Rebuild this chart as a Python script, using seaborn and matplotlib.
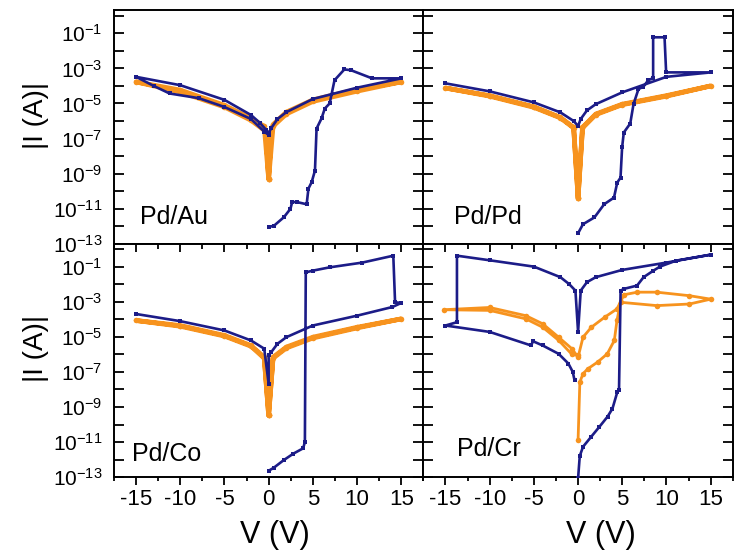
import numpy as np
import pandas as pd
import matplotlib
matplotlib.use("Agg")
import matplotlib.pyplot as plt
import matplotlib.ticker as mticker
import seaborn as sns

BLUE = "#1c1c88"
ORANGE = "#f7931e"

# ---- Pd/Au ----
v_blue_au = [0, 0.63, 1.73, 2.47, 2.66, 3.2, 4.3, 4.5, 4.87, 5.24, 5.42, 5.98, 6.35, 6.9, 7.45, 8.56, 9.3, 11.7, 15,
             10, 5, 2, 1, 0.3, 0, -0.3, -1, -2, -5, -10, -15,
             -13, -11.2, -7.9, -5, -2, -0.5, 0]
i_blue_au = [8.9e-13, 1.1e-12, 3.3e-12, 1e-11, 2.4e-11, 2.4e-11, 1.8e-11, 1.4e-10, 3.3e-10, 1.5e-9, 3.7e-7, 1.4e-6,
             5.1e-6, 1e-5, 2.1e-4, 8.7e-4, 7.9e-4, 2.7e-4, 2.7e-4,
             7.9e-5, 1.8e-5, 3.2e-6, 1.3e-6, 4e-7, 2e-7, 3.2e-7, 7.9e-7, 2.2e-6, 1.6e-5, 1.1e-4, 3.3e-4,
             1e-4, 3.7e-5, 2e-5, 6.3e-6, 1.3e-6, 2.5e-7, 1.6e-7]
v_orange_au = [0, 0.3, 0.5, 2, 5, 10, 15, 10, 5, 2, 0.5, 0, -0.5, -2, -5, -10, -15, -10, -5, -2, -0.3, 0]
i_orange_au = [5.1e-10, 2.5e-7, 6.3e-7, 3.2e-6, 1.6e-5, 6.3e-5, 1.7e-4, 5.0e-5, 1.3e-5, 2.5e-6, 5e-7, 5.1e-10,
               5e-7, 1.4e-6, 7.9e-6, 5.8e-5, 1.7e-4, 4.5e-5, 6.3e-6, 1.1e-6, 2.5e-7, 5.1e-10]

# ---- Pd/Pd ----
v_blue_pd = [0, 0.55, 1.85, 2.95, 4.06, 4.43, 4.8, 4.98, 5.17, 5.9, 6.27, 6.83, 7.38, 7.93, 8.49, 8.49, 9.78, 9.96, 15,
             10, 5, 2, 1, 0.3, 0, -0.5, -2, -5, -10, -15]
i_blue_pd = [4e-13, 1.3e-12, 3.2e-12, 1.8e-11, 4.3e-11, 3.1e-10, 5.9e-10, 3.1e-8, 2.2e-7, 7.2e-7, 9.1e-6, 6.6e-5,
             8.9e-5, 2.1e-4, 2.8e-4, 5.9e-2, 5.9e-2, 5.9e-4, 5.9e-4,
             3.3e-4, 4.3e-5, 9.1e-6, 4e-6, 1.3e-6, 5.2e-7, 1e-6, 3.1e-6, 1.15e-5, 4.9e-5, 1.4e-4]
v_orange_pd = [0, 0.5, 2, 5, 10, 15, 10, 5, 2, 0.5, 0, -0.5, -2, -5, -10, -15, -10, -5, -2, -0.5, 0]
i_orange_pd = [4.3e-11, 4.3e-7, 2.5e-6, 9.1e-6, 2.8e-5, 1.0e-4, 2.6e-5, 8.5e-6, 2.3e-6, 4e-7, 4.3e-11,
               4.3e-7, 1.6e-6, 6.5e-6, 2.8e-5, 7.6e-5, 2.6e-5, 6e-6, 1.5e-6, 4e-7, 4.3e-11]

# ---- Pd/Co ----
v_blue_co = [0, 0.6, 1.7, 2.8, 3.9, 4.1, 4.2, 5.0, 6.9, 10.6, 14.1, 14.3, 15,
             14, 10, 5, 2, 1, 0.3, 0, 0, -0.5, -2, -5, -10, -15]
i_blue_co = [2.3e-13, 3.5e-13, 9.3e-13, 2.2e-12, 4.4e-12, 1e-11, 4.7e-2, 5.9e-2, 9.1e-2, 0.17, 0.42, 9.3e-4, 8.5e-4,
             5e-4, 1.6e-4, 4.4e-5, 9.5e-6, 4e-6, 1.35e-6, 8.7e-7, 2.1e-8, 2.1e-6, 6.2e-6, 2.3e-5, 7.8e-5, 2.0e-4]
v_orange_co = [0, 0.5, 2, 5, 10, 15, 10, 5, 2, 0.5, 0, -0.5, -2, -5, -10, -15, -10, -5, -2, -0.5, 0]
i_orange_co = [3.4e-10, 6.9e-7, 2.6e-6, 9.5e-6, 3.5e-5, 1.05e-4, 3.2e-5, 8.5e-6, 2.3e-6, 6e-7, 3.4e-10,
               6.9e-7, 3.2e-6, 1.2e-5, 4.4e-5, 8.5e-5, 4e-5, 1.1e-5, 2.9e-6, 6e-7, 3.4e-10]

# ---- Pd/Cr ----
v_blue_cr = [0, 0.19, 0.56, 1.48, 2.41, 3.33, 3.89, 4.44, 4.63, 4.81, 5.19, 6.67, 7.41, 8.52, 9.26, 11.1, 15,
             10, 5, 2, 1, 0.3, 0, -0.3, -1, -2, -5, -10, -13.7, -13.7, -15,
             -10, -5.3, -5.1, -4, -2.2, -1.1, -0.6, -0.4]
i_blue_cr = [8.5e-14, 1.6e-12, 5.4e-12, 2e-11, 7.4e-11, 2.8e-10, 8.1e-10, 7.2e-9, 8.9e-9, 4.3e-3, 5.4e-3, 8.3e-3,
             2.5e-2, 5.9e-2, 0.1, 0.22, 0.48,
             0.17, 0.065, 0.025, 0.013, 4.3e-3, 1.9e-5, 4.3e-3, 1e-2, 2.5e-2, 0.1, 0.23, 0.42, 6.8e-5, 4.4e-5,
             1.9e-5, 3.2e-6, 5.6e-6, 3.2e-6, 1.07e-6, 3e-7, 1e-7, 3.3e-8]
v_orange_cr = [0, -0.7, -2.2, -4, -5.9, -10, -15.2, -10, -5.9, -4, -2.2, -0.7, 0,
               0.56, 1.5, 3.0, 4.4, 5.2, 6.7, 8.9, 12.6, 15, 12.6, 8.9, 4.8, 4.4, 4.1, 3.3, 2.2, 1.1, 0.56, 0.2, 0]
i_orange_cr = [8.7e-7, 1e-6, 6.3e-6, 3.5e-5, 1.05e-4, 3.2e-4, 3.5e-4, 4.7e-4, 1.6e-4, 5.5e-5, 9.5e-6, 2.1e-6, 6.9e-7,
               9.5e-6, 3.5e-5, 1.3e-4, 3.9e-4, 2.5e-3, 3.5e-3, 3.5e-3, 2.2e-3, 1.4e-3, 7.4e-4, 6e-4, 9.3e-4,
               8.5e-5, 6.2e-6, 1.07e-6, 3.6e-7, 1.5e-7, 7.9e-8, 2.6e-8, 1.3e-11]

panels = [
    ("Pd/Au", v_blue_au, i_blue_au, v_orange_au, i_orange_au),
    ("Pd/Pd", v_blue_pd, i_blue_pd, v_orange_pd, i_orange_pd),
    ("Pd/Co", v_blue_co, i_blue_co, v_orange_co, i_orange_co),
    ("Pd/Cr", v_blue_cr, i_blue_cr, v_orange_cr, i_orange_cr),
]
label_pos = [(0.083, 0.115), (0.10, 0.115), (0.06, 0.10), (0.11, 0.12)]
orange_lw = [3.4, 3.4, 3.4, 2.0]

sns.set_style("ticks")
plt.rcParams['font.family'] = ['Liberation Sans', 'DejaVu Sans']
plt.rcParams['mathtext.fontset'] = 'custom'
plt.rcParams['mathtext.rm'] = 'Liberation Sans'
plt.rcParams['mathtext.it'] = 'Liberation Sans'
plt.rcParams['mathtext.bf'] = 'Liberation Sans'
plt.rcParams['axes.unicode_minus'] = False
plt.rcParams['text.color'] = 'black'
plt.rcParams['axes.labelcolor'] = 'black'
plt.rcParams['xtick.color'] = 'black'
plt.rcParams['ytick.color'] = 'black'
plt.rcParams['axes.edgecolor'] = 'black'

fig, axes = plt.subplots(2, 2, figsize=(7.35, 5.51), dpi=100, sharex=True, sharey=True)
fig.subplots_adjust(left=0.155, right=0.997, top=0.981, bottom=0.134, wspace=0, hspace=0)

for k, (name, vb, ib, vo, io) in enumerate(panels):
    ax = axes.flat[k]
    ax.set_yscale('log')
    sns.lineplot(x=vb, y=ib, ax=ax, sort=False, estimator=None, color=BLUE, lw=1.9,
                 marker='s', markersize=3.5, markeredgewidth=0, zorder=3)
    sns.lineplot(x=vo, y=io, ax=ax, sort=False, estimator=None, color=ORANGE, lw=orange_lw[k],
                 marker='o', markersize=4, markeredgewidth=0, zorder=2)
    ax.text(label_pos[k][0], label_pos[k][1], name, transform=ax.transAxes, fontsize=18,
            va='center', ha='left')

    ax.set_xlim(-17.5, 17.5)
    ax.set_ylim(1e-13, 10 ** 0.3)
    ax.yaxis.set_major_locator(mticker.FixedLocator([10.0 ** e for e in range(-13, 0, 2)]))
    ax.yaxis.set_minor_locator(mticker.FixedLocator([10.0 ** e for e in range(-12, 1, 2)]))
    ax.yaxis.set_major_formatter(mticker.FuncFormatter(
        lambda y, p: r"10$^{%d}$" % int(round(np.log10(y)))))
    ax.yaxis.set_minor_formatter(mticker.NullFormatter())
    ax.xaxis.set_major_locator(mticker.MultipleLocator(5))
    ax.xaxis.set_minor_locator(mticker.MultipleLocator(2.5))

    for sp in ax.spines.values():
        sp.set_linewidth(1.4)
        sp.set_visible(True)

    ax.tick_params(axis='y', which='both', direction='in', left=True, right=True,
                   length=7, width=1.3, labelsize=15, pad=8)
    if k % 2 == 1:
        ax.tick_params(axis='y', which='both', labelleft=False)
    if k < 2:
        ax.tick_params(axis='x', which='both', bottom=False, top=False, labelbottom=False)
    else:
        ax.tick_params(axis='x', which='major', direction='out', length=5.5, width=1.3,
                       labelsize=16, pad=3)
        ax.tick_params(axis='x', which='minor', direction='out', length=3, width=1.3)
        # inward ticks along the top edge of the lower panels
        sec = ax.secondary_xaxis('top')
        sec.xaxis.set_major_locator(mticker.MultipleLocator(5))
        sec.xaxis.set_minor_locator(mticker.MultipleLocator(2.5))
        sec.tick_params(axis='x', which='major', direction='in', length=5.5, width=1.3, labeltop=False)
        sec.tick_params(axis='x', which='minor', direction='in', length=3.5, width=1.3)
        sec.spines['top'].set_visible(False)
        ax.set_xlabel("V (V)", fontsize=22)
        ax.xaxis.set_label_coords(0.52 if k == 2 else 0.574, -0.185)
    ax.set_ylabel("")
    if k % 2 == 0:
        ax.set_ylabel("|I (A)|", fontsize=20)
        ax.yaxis.set_label_coords(-0.21, 0.55)

fig.savefig("out.png", dpi=100)
